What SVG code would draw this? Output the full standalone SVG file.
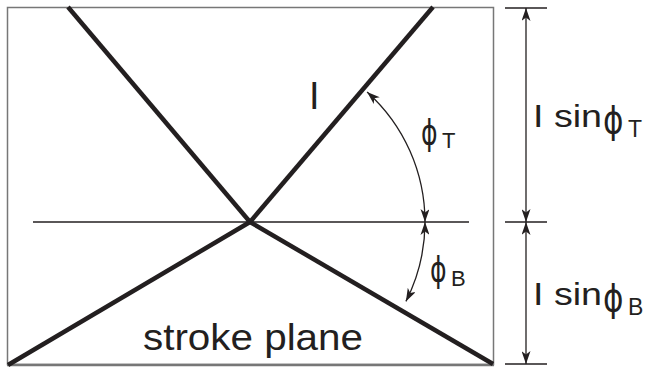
<svg xmlns="http://www.w3.org/2000/svg" width="650" height="367" viewBox="0 0 650 367">
<style>
.thick{stroke:#231f20;stroke-width:4.5;fill:none;stroke-linecap:butt}
.thin{stroke:#231f20;stroke-width:1.3;fill:none}
.t{font-family:"Liberation Sans",Arial,sans-serif;fill:#231f20}
.p{font-family:"DejaVu Sans","Liberation Sans",sans-serif;fill:#231f20}
</style>
<defs>
<marker id="ah" viewBox="0 0 13 9" refX="13" refY="4.5" markerWidth="13" markerHeight="9" markerUnits="userSpaceOnUse" orient="auto-start-reverse">
<path d="M0,0 L13,4.5 L0,9 L3.5,4.5 z" fill="#231f20"/>
</marker>
</defs>
<rect x="7.5" y="7.5" width="486" height="357" fill="#fff" stroke="#777" stroke-width="1.5"/>
<line x1="7" y1="365" x2="494" y2="365" stroke="#777" stroke-width="2.5"/>
<g id="connectors">
<line class="thin" x1="33" y1="222" x2="469" y2="222" stroke-width="2"/>
<line class="thick" x1="68" y1="7" x2="250" y2="222"/>
<line class="thick" x1="433" y1="7" x2="250" y2="222"/>
<line class="thick" x1="8" y1="365" x2="250" y2="222"/>
<line class="thick" x1="493" y1="364" x2="250" y2="222"/>
<path class="thin" d="M367.1,92 A175,175 0 0 1 425,222" marker-start="url(#ah)" marker-end="url(#ah)"/>
<path class="thin" d="M425,222 A175,175 0 0 1 405.9,301.4" marker-start="url(#ah)" marker-end="url(#ah)"/>
<line class="thin" x1="505" y1="8" x2="547" y2="8"/>
<line class="thin" x1="505" y1="222" x2="547" y2="222"/>
<line class="thin" x1="505" y1="364" x2="547" y2="364"/>
<line class="thin" x1="526" y1="8" x2="526" y2="222" marker-start="url(#ah)" marker-end="url(#ah)"/>
<line class="thin" x1="526" y1="222" x2="526" y2="364" marker-start="url(#ah)" marker-end="url(#ah)"/>
</g>
<g id="label-l">
<text class="t" x="309" y="109" font-size="38">I</text>
</g>
<g id="label-phiT">
<text class="p" transform="translate(421,145) scale(0.7,1)" font-size="36">ϕ</text>
<text class="t" x="442" y="148" font-size="22">T</text>
</g>
<g id="label-phiB">
<text class="p" transform="translate(430,282) scale(0.7,1)" font-size="36">ϕ</text>
<text class="t" x="451" y="286" font-size="22">B</text>
</g>
<g id="label-top">
<text class="t" x="533" y="127" font-size="32" textLength="69" lengthAdjust="spacingAndGlyphs">I sin</text>
<text class="p" transform="translate(603,133) scale(0.82,1)" font-size="38">ϕ</text>
<text class="t" x="628" y="137" font-size="23">T</text>
</g>
<g id="label-bottom">
<text class="t" x="533" y="305" font-size="32" textLength="69" lengthAdjust="spacingAndGlyphs">I sin</text>
<text class="p" transform="translate(603,311) scale(0.82,1)" font-size="38">ϕ</text>
<text class="t" x="628" y="315" font-size="23">B</text>
</g>
<g id="label-plane">
<text class="t" x="143" y="350" font-size="36" textLength="220" lengthAdjust="spacingAndGlyphs">stroke plane</text>
</g>
</svg>
